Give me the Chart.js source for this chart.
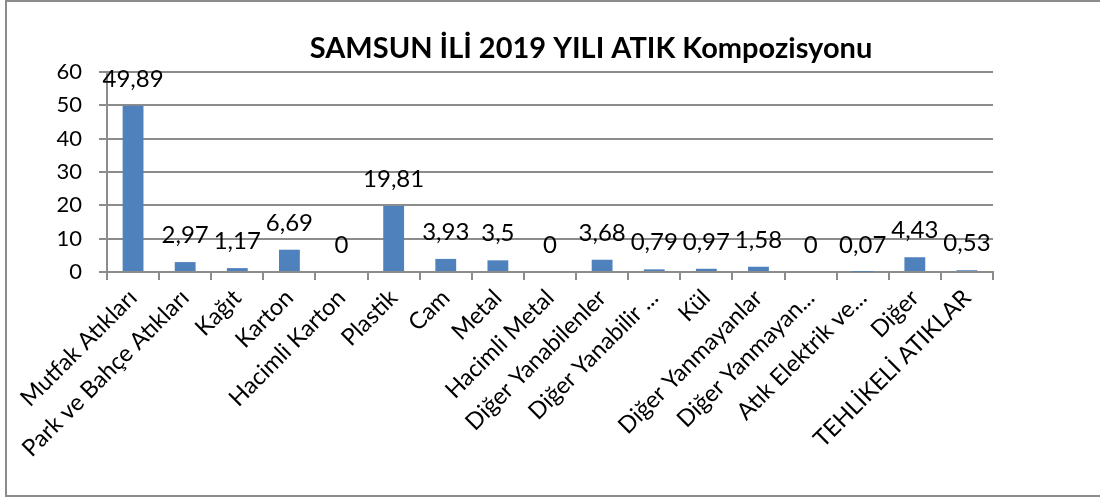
<!DOCTYPE html>
<html>
<head>
<meta charset="utf-8">
<script src="https://cdn.jsdelivr.net/npm/chart.js@4.4.1/dist/chart.umd.min.js"></script>
<style>
  html, body { margin: 0; padding: 0; background: #fff; }
  canvas { display: block; }
</style>
</head>
<body>
<canvas id="c" width="1100" height="498"></canvas>
<script>
const titleText = "SAMSUN İLİ 2019 YILI ATIK Kompozisyonu";
const categories = [
  "Mutfak Atıkları", "Park ve Bahçe Atıkları", "Kağıt", "Karton", "Hacimli Karton",
  "Plastik", "Cam", "Metal", "Hacimli Metal", "Diğer Yanabilenler",
  "Diğer Yanabilir ...", "Kül", "Diğer Yanmayanlar", "Diğer Yanmayan...",
  "Atık Elektrik ve...", "Diğer", "TEHLİKELİ ATIKLAR"
];
const values = [49.89, 2.97, 1.17, 6.69, 0, 19.81, 3.93, 3.5, 0, 3.68, 0.79, 0.97, 1.58, 0, 0.07, 4.43, 0.53];
const yMin = 0, yMax = 60, yStep = 10;

const FONT = "Lato, 'Open Sans', sans-serif";
const GRID = "#8c8c8c";

const bgBorder = {
  id: "bgBorder",
  beforeDraw(chart) {
    const ctx = chart.ctx;
    ctx.save();
    ctx.fillStyle = "#fff";
    ctx.fillRect(0, 0, chart.width, chart.height);
    ctx.strokeStyle = GRID;
    ctx.lineWidth = 2;
    ctx.strokeRect(6, 1, chart.width + 10, 495);
    ctx.restore();
  }
};

const titlePlugin = {
  id: "titlePlugin",
  afterDraw(chart) {
    const ctx = chart.ctx;
    ctx.save();
    ctx.font = "bold 29px " + FONT;
    ctx.fillStyle = "#000";
    ctx.textAlign = "center";
    ctx.textBaseline = "alphabetic";
    ctx.fillText(titleText, 591, 58);
    ctx.restore();
  }
};

const dataLabels = {
  id: "dataLabels",
  afterDatasetsDraw(chart) {
    const ctx = chart.ctx;
    ctx.save();
    ctx.font = "24px " + FONT;
    ctx.fillStyle = "#000";
    ctx.textAlign = "center";
    ctx.textBaseline = "alphabetic";
    const meta = chart.getDatasetMeta(0);
    meta.data.forEach((bar, i) => {
      const v = chart.data.datasets[0].data[i];
      ctx.fillText(String(v).replace(".", ","), bar.x, bar.y - 19);
    });
    ctx.restore();
  }
};

new Chart(document.getElementById("c"), {
  type: "bar",
  data: {
    labels: categories,
    datasets: [{
      data: values,
      backgroundColor: "#4f81bd",
      borderWidth: 0,
      barPercentage: 1,
      categoryPercentage: 0.4
    }]
  },
  options: {
    responsive: false,
    animation: false,
    devicePixelRatio: 1,
    layout: { padding: { top: 72, right: 107, bottom: 0, left: 0 } },
    plugins: {
      legend: { display: false },
      title: { display: false },
      tooltip: { enabled: false }
    },
    scales: {
      x: {
        afterFit(scale) { scale.height = 226; },
        grid: {
          display: true,
          drawOnChartArea: false,
          drawTicks: true,
          tickLength: 8,
          offset: true,
          color: GRID,
          lineWidth: 2
        },
        border: { display: true, color: GRID, width: 2 },
        ticks: {
          autoSkip: false,
          minRotation: 45,
          maxRotation: 45,
          padding: 4,
          color: "#000",
          font: { family: FONT, size: 23.5 }
        }
      },
      y: {
        min: yMin,
        max: yMax,
        afterFit(scale) { scale.width = 107; },
        grid: {
          color: GRID,
          lineWidth: 2,
          drawTicks: true,
          tickLength: 8
        },
        border: { display: true, color: GRID, width: 2 },
        ticks: {
          stepSize: yStep,
          padding: 17,
          color: "#000",
          font: { family: FONT, size: 22 }
        }
      }
    }
  },
  plugins: [bgBorder, dataLabels, titlePlugin]
});
</script>
</body>
</html>
